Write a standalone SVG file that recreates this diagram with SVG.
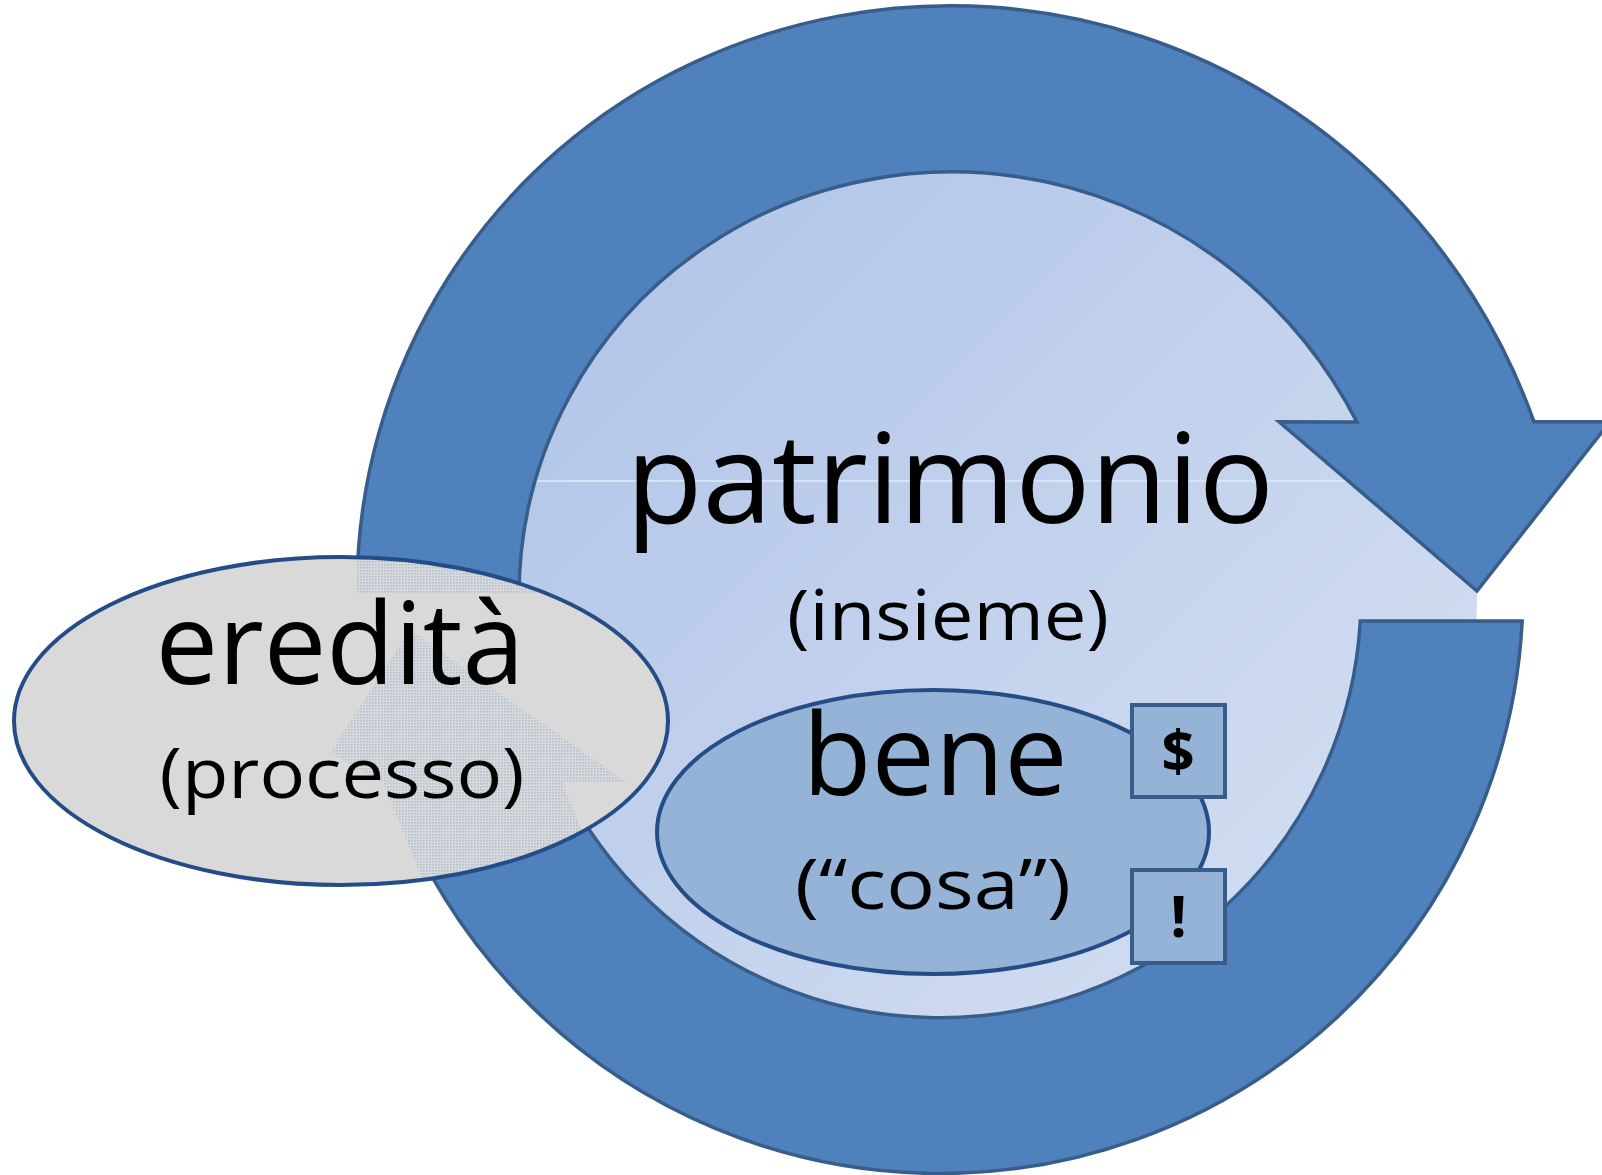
<svg xmlns="http://www.w3.org/2000/svg" width="1602" height="1175" viewBox="0 0 1602 1175">
  <style>
    .lbl { font-family: "Open Sans", "Noto Sans", "Liberation Sans", sans-serif; fill: #000000; text-anchor: middle; }
    .big { font-size: 113px; }
    .huge { font-size: 124px; }
    .sub { font-size: 70px; }
    .mark { font-size: 58px; font-weight: bold; }
    .ring { fill: #4F81BD; stroke: #385D8A; stroke-width: 3.5; stroke-linejoin: miter; }
    .oval { stroke: #244C86; stroke-width: 4; }
    .box { fill: #95B3D7; stroke: #385D8A; stroke-width: 4; }
  </style>
  <defs>
    <linearGradient id="lightFill" x1="0" y1="0" x2="1" y2="1">
      <stop offset="0" stop-color="#A9BFE6"/>
      <stop offset="1" stop-color="#DAE3F3"/>
    </linearGradient>
    <pattern id="dots" width="3" height="3" patternUnits="userSpaceOnUse">
      <rect x="0" y="0" width="1.6" height="1.6" fill="#9DB3D3"/>
    </pattern>
    <clipPath id="ereditaClip">
      <ellipse cx="341" cy="721" rx="327" ry="164"/>
    </clipPath>
  </defs>

  <rect x="0" y="0" width="1602" height="1175" fill="#FFFFFF"/>

  <g id="node-patrimonio">
    <circle cx="940" cy="596" r="537" fill="url(#lightFill)"/>
    <line x1="450" y1="481" x2="1450" y2="481" stroke="#E3EAF6" stroke-width="1.5"/>
    <text class="lbl huge" x="950" y="523" textLength="648" lengthAdjust="spacingAndGlyphs">patrimonio</text>
    <text class="lbl sub" x="948" y="640" textLength="322" lengthAdjust="spacingAndGlyphs">(insieme)</text>
  </g>

  <g id="connectors">
    <path id="cycle-arrow" class="ring" d="M1522.2,621 A583,583 0 0 1 357,591 A583,583 0 0 1 693.6,62.6 A607,607 0 0 1 838.6,16.1 A610,610 0 0 1 991.1,7 A613,613 0 0 1 1141.8,36.5 A617,617 0 0 1 1281.7,103 A622,622 0 0 1 1387.2,188.3 A628,628 0 0 1 1472.6,295.8 A634,634 0 0 1 1534,421.8 L1610,421.8 L1477,591 L1279,421.8 L1357,422.1 A470,470 0 0 0 1304.5,341.3 A460,460 0 0 0 1221.2,261.4 A452,452 0 0 0 1122.3,205.5 A446,446 0 0 0 1014.1,176.3 A440,440 0 0 0 866.6,180.2 A430,430 0 0 0 708.8,244.6 A421,421 0 0 0 519,596.5 A421,421 0 0 0 1360.3,621 Z"/>
  </g>

  <g id="node-eredita">
    <ellipse cx="341" cy="721" rx="327" ry="164" fill="#D9D9D9"/>
    <g clip-path="url(#ereditaClip)" opacity="0.7">
      <polygon points="357,548 540,548 540,593 357,593" fill="url(#dots)"/>
      <polygon points="410,630 627,783 563,783 580,827 593,890 427,890 383,783 330,753" fill="url(#dots)"/>
    </g>
    <ellipse class="oval" cx="341" cy="721" rx="327" ry="164" fill="none"/>
    <text class="lbl big" x="340" y="684" textLength="369" lengthAdjust="spacingAndGlyphs">eredità</text>
    <text class="lbl sub" x="342" y="798" textLength="365" lengthAdjust="spacingAndGlyphs">(processo)</text>
  </g>

  <g id="node-bene">
    <ellipse class="oval" cx="933" cy="832" rx="276" ry="142" fill="#95B3D7"/>
    <text class="lbl big" x="935" y="795" textLength="265" lengthAdjust="spacingAndGlyphs">bene</text>
    <text class="lbl sub" x="933" y="909" textLength="276" lengthAdjust="spacingAndGlyphs">(“cosa”)</text>
  </g>

  <g id="node-dollar">
    <rect class="box" x="1132" y="705" width="93" height="92"/>
    <text class="lbl mark" x="1178" y="772">$</text>
  </g>

  <g id="node-excl">
    <rect class="box" x="1132" y="870" width="93" height="93"/>
    <text class="lbl mark" x="1178.5" y="937">!</text>
  </g>
</svg>
